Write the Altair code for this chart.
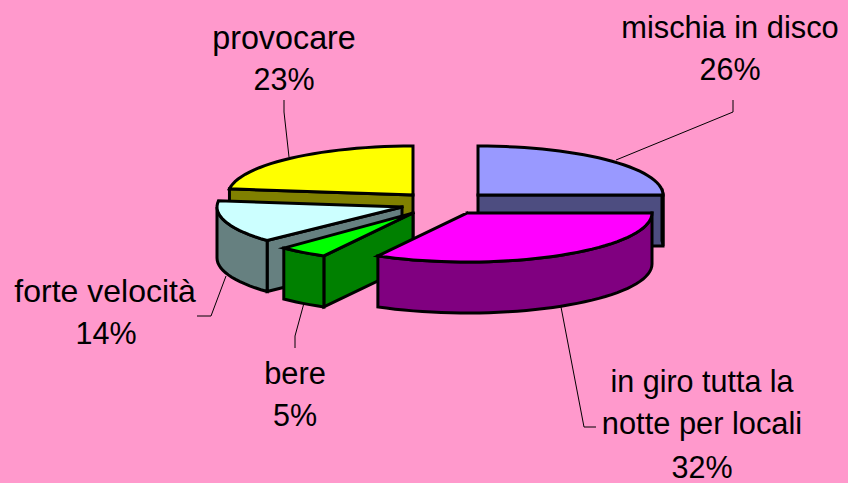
import math
import altair as alt
import pandas as pd

# Chart values
names = ["mischia in disco", "in giro tutta la notte per locali", "bere", "forte velocità", "provocare"]
shares = [26, 32, 5, 14, 23]
top_colors = ["#9999FF", "#FF00FF", "#00FF00", "#CCFFFF", "#FFFF00"]
side_colors = ["#4D4D80", "#800080", "#008000", "#668080", "#808000"]
apex_x = [478, 467, 413, 402, 413]
apex_y = [195, 213, 213, 207, 195]

# Label text and its position
label_text = ["mischia in disco", "26%", "provocare", "23%", "forte velocità", "14%",
              "bere", "5%", "in giro tutta la", "notte per locali", "32%"]
label_x = [730, 730, 284, 284, 105, 106, 295, 295, 702, 702, 702]
label_y = [29, 71, 39, 81, 292, 335, 375, 417, 383, 425, 469]
label_size = [30.8, 30.5, 32.3, 30.5, 32, 30.5, 30.8, 30.5, 30.5, 30.8, 30.5]

# Leader lines
leader_a_x = [616, 289, 226, 304, 561]
leader_a_y = [160, 157, 276, 303, 307]
leader_b_x = [733, 284, 211, 295, 584]
leader_b_y = [112, 112, 316, 336, 427]
leader_c_x = [733, 284, 197, 295, 596]
leader_c_y = [100, 100, 316, 348, 427]

RX, RY, DEPTH = 185, 49, 51
PINK = "#FF99CC"
FONT = "Liberation Sans"

x_scale = alt.Scale(domain=[8, 840], range=[0, 832], nice=False, zero=False)
y_scale = alt.Scale(domain=[483, 8], range=[475, 0], nice=False, zero=False)
X = lambda f: alt.X(f, type="quantitative", scale=x_scale, axis=None)
Y = lambda f: alt.Y(f, type="quantitative", scale=y_scale, axis=None)


def rim(ax, ay, deg, drop=0):
    t = math.radians(deg)
    return (ax + RX * math.sin(t), ay - RY * math.cos(t) + drop)


def arc(ax, ay, a, b, drop=0):
    n = max(2, int(abs(b - a) / 3) + 1)
    return [rim(ax, ay, a + (b - a) * k / n, drop) for k in range(n + 1)]


def face(points, fill):
    pts = list(points) + [points[0]]
    df = pd.DataFrame({"x": [p[0] for p in pts], "y": [p[1] for p in pts], "i": range(len(pts))})
    return alt.Chart(df).mark_line(
        fill=fill, stroke="black", strokeWidth=3, strokeJoin="miter", strokeCap="square"
    ).encode(x=X("x"), y=Y("y"), order=alt.Order("i:Q"))


def radial_wall(ax, ay, deg, fill):
    p = rim(ax, ay, deg)
    return face([(ax, ay), p, (p[0], p[1] + DEPTH), (ax, ay + DEPTH)], fill)


def arc_wall(ax, ay, a, b, fill):
    return face(arc(ax, ay, a, b) + arc(ax, ay, a, b, DEPTH)[::-1], fill)


total = sum(shares)
edges = [0]
for s in shares:
    edges.append(edges[-1] + s / total * 360)
# The reference draws the first boundary level with the horizon.
starts = [edges[0], 90, edges[2], edges[3], edges[4]]
ends = [90, edges[2], edges[3] - 2.5, edges[4], edges[5]]


def top(i):
    return face([(apex_x[i], apex_y[i])] + arc(apex_x[i], apex_y[i], starts[i], ends[i]), top_colors[i])


layers = []

i = 4
layers += [radial_wall(apex_x[i], apex_y[i], starts[i], side_colors[i]), top(i)]
i = 0
layers += [radial_wall(apex_x[i], apex_y[i], ends[i], side_colors[i]),
           arc_wall(apex_x[i], apex_y[i], ends[i] - 6, ends[i], side_colors[i]),
           top(i)]
i = 3
layers += [radial_wall(apex_x[i], apex_y[i], starts[i], side_colors[i]),
           arc_wall(apex_x[i], apex_y[i], starts[i], 270, side_colors[i]),
           top(i)]
i = 2
layers += [radial_wall(apex_x[i], apex_y[i], starts[i], side_colors[i]),
           arc_wall(apex_x[i], apex_y[i], starts[i], ends[i], side_colors[i]),
           top(i)]
i = 1
layers += [arc_wall(apex_x[i], apex_y[i], starts[i], ends[i], side_colors[i]), top(i)]

# leaders
for k in range(len(leader_a_x)):
    df = pd.DataFrame({
        "x": [leader_a_x[k], leader_b_x[k], leader_c_x[k]],
        "y": [leader_a_y[k], leader_b_y[k], leader_c_y[k]],
        "i": [0, 1, 2],
    })
    layers.append(alt.Chart(df).mark_line(color="black", strokeWidth=1).encode(
        x=X("x"), y=Y("y"), order=alt.Order("i:Q")))

labels = pd.DataFrame({"t": label_text, "x": label_x, "y": label_y, "s": label_size})
layers.append(alt.Chart(labels).mark_text(
    font=FONT, color="black", align="center", baseline="middle"
).encode(x=X("x"), y=Y("y"), text="t:N", size=alt.Size("s:Q", scale=None, legend=None)))

chart = alt.layer(*layers).properties(
    width=832, height=475, padding=0,
    autosize=alt.AutoSizeParams(type="none"),
    background=PINK,
).configure_view(stroke=None)

chart.save("out.html", embed_options={"renderer": "svg", "actions": False,
                                      "defaultStyle": "html,body{background:#FF99CC;overflow:hidden}"})
